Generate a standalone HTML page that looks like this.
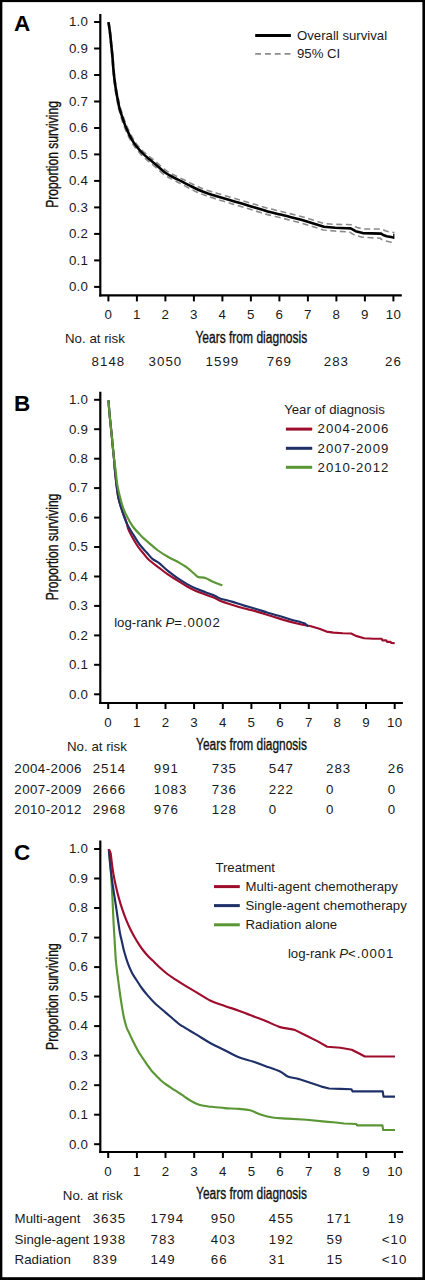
<!DOCTYPE html>
<html><head><meta charset="utf-8">
<style>
html,body{margin:0;padding:0;background:#fff;}
body{width:425px;height:1280px;overflow:hidden;}
svg{display:block;}
.t{font-family:"Liberation Sans", sans-serif;font-size:13.3px;fill:#1a1a1a;letter-spacing:0.3px;}
.r{font-family:"Liberation Sans", sans-serif;font-size:13.3px;fill:#1a1a1a;}
.n{font-family:"Liberation Sans", sans-serif;font-size:13.3px;fill:#1a1a1a;letter-spacing:1px;}
.d{letter-spacing:0.95px;}
.lg{font-family:"Liberation Sans", sans-serif;font-size:13.2px;fill:#1a1a1a;}
.pl{font-family:"Liberation Sans", sans-serif;font-size:22.5px;font-weight:bold;fill:#000;}
.yl{font-family:"Liberation Sans", sans-serif;font-size:16px;fill:#111;stroke:#111;stroke-width:0.35px;}
.xl{font-family:"Liberation Sans", sans-serif;font-size:15.6px;fill:#111;stroke:#111;stroke-width:0.35px;}
</style></head>
<body>
<svg width="425" height="1280" viewBox="0 0 425 1280">
<rect x="0" y="0" width="425" height="1280" fill="#fff"/>
<line x1="100.3" y1="14.0" x2="100.3" y2="296.5" stroke="#000" stroke-width="2.2"/>
<line x1="99.2" y1="295.4" x2="401.8" y2="295.4" stroke="#000" stroke-width="2.2"/>
<line x1="94.1" y1="286.9" x2="100.3" y2="286.9" stroke="#000" stroke-width="2"/>
<text x="88.3" y="291.2" text-anchor="end" class="t">0.0</text>
<line x1="94.1" y1="260.4" x2="100.3" y2="260.4" stroke="#000" stroke-width="2"/>
<text x="88.3" y="264.7" text-anchor="end" class="t">0.1</text>
<line x1="94.1" y1="233.9" x2="100.3" y2="233.9" stroke="#000" stroke-width="2"/>
<text x="88.3" y="238.2" text-anchor="end" class="t">0.2</text>
<line x1="94.1" y1="207.4" x2="100.3" y2="207.4" stroke="#000" stroke-width="2"/>
<text x="88.3" y="211.7" text-anchor="end" class="t">0.3</text>
<line x1="94.1" y1="180.9" x2="100.3" y2="180.9" stroke="#000" stroke-width="2"/>
<text x="88.3" y="185.2" text-anchor="end" class="t">0.4</text>
<line x1="94.1" y1="154.4" x2="100.3" y2="154.4" stroke="#000" stroke-width="2"/>
<text x="88.3" y="158.8" text-anchor="end" class="t">0.5</text>
<line x1="94.1" y1="128.0" x2="100.3" y2="128.0" stroke="#000" stroke-width="2"/>
<text x="88.3" y="132.3" text-anchor="end" class="t">0.6</text>
<line x1="94.1" y1="101.5" x2="100.3" y2="101.5" stroke="#000" stroke-width="2"/>
<text x="88.3" y="105.8" text-anchor="end" class="t">0.7</text>
<line x1="94.1" y1="75.0" x2="100.3" y2="75.0" stroke="#000" stroke-width="2"/>
<text x="88.3" y="79.3" text-anchor="end" class="t">0.8</text>
<line x1="94.1" y1="48.5" x2="100.3" y2="48.5" stroke="#000" stroke-width="2"/>
<text x="88.3" y="52.8" text-anchor="end" class="t">0.9</text>
<line x1="94.1" y1="22.0" x2="100.3" y2="22.0" stroke="#000" stroke-width="2"/>
<text x="88.3" y="26.3" text-anchor="end" class="t">1.0</text>
<line x1="108.4" y1="295.4" x2="108.4" y2="301.4" stroke="#000" stroke-width="2"/>
<text x="108.4" y="319.4" text-anchor="middle" class="t">0</text>
<line x1="136.9" y1="295.4" x2="136.9" y2="301.4" stroke="#000" stroke-width="2"/>
<text x="136.9" y="319.4" text-anchor="middle" class="t">1</text>
<line x1="165.4" y1="295.4" x2="165.4" y2="301.4" stroke="#000" stroke-width="2"/>
<text x="165.4" y="319.4" text-anchor="middle" class="t">2</text>
<line x1="193.9" y1="295.4" x2="193.9" y2="301.4" stroke="#000" stroke-width="2"/>
<text x="193.9" y="319.4" text-anchor="middle" class="t">3</text>
<line x1="222.4" y1="295.4" x2="222.4" y2="301.4" stroke="#000" stroke-width="2"/>
<text x="222.4" y="319.4" text-anchor="middle" class="t">4</text>
<line x1="250.9" y1="295.4" x2="250.9" y2="301.4" stroke="#000" stroke-width="2"/>
<text x="250.9" y="319.4" text-anchor="middle" class="t">5</text>
<line x1="279.4" y1="295.4" x2="279.4" y2="301.4" stroke="#000" stroke-width="2"/>
<text x="279.4" y="319.4" text-anchor="middle" class="t">6</text>
<line x1="307.9" y1="295.4" x2="307.9" y2="301.4" stroke="#000" stroke-width="2"/>
<text x="307.9" y="319.4" text-anchor="middle" class="t">7</text>
<line x1="336.4" y1="295.4" x2="336.4" y2="301.4" stroke="#000" stroke-width="2"/>
<text x="336.4" y="319.4" text-anchor="middle" class="t">8</text>
<line x1="364.9" y1="295.4" x2="364.9" y2="301.4" stroke="#000" stroke-width="2"/>
<text x="364.9" y="319.4" text-anchor="middle" class="t">9</text>
<line x1="393.4" y1="295.4" x2="393.4" y2="301.4" stroke="#000" stroke-width="2"/>
<text x="393.4" y="319.4" text-anchor="middle" class="t">10</text>
<text x="14.0" y="30.8" class="pl">A</text>
<text transform="translate(58.2 154.4) rotate(-90)" text-anchor="middle" class="yl" textLength="106.6" lengthAdjust="spacingAndGlyphs">Proportion surviving</text>
<path d="M108.99,22.03 C109.25,23.78 110.05,28.82 110.50,32.54 C110.95,36.26 111.30,40.41 111.70,44.35 C112.10,48.29 112.54,52.24 112.90,56.16 C113.25,60.07 113.45,63.94 113.82,67.85 C114.18,71.77 114.58,75.70 115.10,79.63 C115.61,83.55 116.32,88.02 116.90,91.39 C117.49,94.76 118.07,97.26 118.61,99.85 C119.14,102.43 119.47,104.56 120.09,106.88 C120.70,109.20 121.44,111.23 122.30,113.78 C123.17,116.33 124.17,119.38 125.26,122.17 C126.36,124.96 127.58,127.81 128.86,130.53 C130.14,133.25 131.61,136.20 132.92,138.46 C134.23,140.73 135.30,142.29 136.71,144.13 C138.13,145.97 139.85,147.86 141.42,149.50 C142.98,151.14 144.38,152.47 146.10,153.97 C147.82,155.47 149.85,156.95 151.75,158.48 C153.65,160.01 155.12,161.16 157.50,163.14 C159.88,165.13 163.28,168.39 166.04,170.37 C168.79,172.35 171.32,173.59 174.03,175.03 C176.74,176.47 179.55,177.66 182.30,179.01 C185.05,180.36 187.80,181.78 190.54,183.13 C193.29,184.48 196.07,185.91 198.78,187.09 C201.49,188.28 203.81,189.21 206.81,190.23 C209.80,191.24 212.92,192.06 216.73,193.18 C220.54,194.30 225.33,195.68 229.65,196.94 C233.97,198.19 238.34,199.43 242.66,200.70 C246.98,201.98 251.29,203.29 255.58,204.58 C259.87,205.87 264.11,207.28 268.40,208.43 C272.70,209.58 277.61,210.58 281.34,211.49 C285.07,212.40 287.31,213.00 290.77,213.88 L302.14,216.77 L313.54,220.18 L324.52,223.67 L335.41,224.36 L346.67,224.54 L351.88,224.81 L357.03,227.55 L363.28,229.02 L371.32,229.04 L381.71,229.00 L385.18,230.74 L387.86,231.55 L393.29,232.43 L394.51,232.56" fill="none" stroke="#8a8a8a" stroke-width="1.6" stroke-dasharray="6 3.6"/>
<path d="M108.01,22.17 C108.25,23.92 109.05,28.95 109.50,32.66 C109.95,36.37 110.30,40.52 110.70,44.45 C111.10,48.38 111.56,52.33 111.90,56.24 C112.25,60.16 112.45,64.02 112.78,67.95 C113.12,71.87 113.45,75.83 113.90,79.77 C114.36,83.72 114.98,88.22 115.50,91.61 C116.01,95.01 116.53,97.54 116.99,100.15 C117.46,102.77 117.76,104.94 118.31,107.32 C118.86,109.70 119.53,111.80 120.30,114.42 C121.07,117.04 121.93,120.16 122.94,123.03 C123.94,125.91 125.12,128.85 126.34,131.67 C127.56,134.49 128.99,137.54 130.28,139.94 C131.57,142.34 132.67,144.08 134.09,146.07 C135.50,148.06 137.21,150.11 138.78,151.90 C140.35,153.70 141.78,155.19 143.50,156.83 C145.21,158.46 147.19,160.11 149.05,161.72 C150.92,163.32 152.31,164.40 154.70,166.46 C157.08,168.51 160.52,171.91 163.36,174.03 C166.21,176.15 168.98,177.61 171.77,179.17 C174.56,180.73 177.35,181.97 180.10,183.39 C182.85,184.81 185.50,186.25 188.26,187.67 C191.01,189.09 193.83,190.62 196.62,191.91 C199.41,193.19 201.92,194.26 204.99,195.37 C208.07,196.49 211.24,197.40 215.07,198.62 C218.90,199.83 223.64,201.35 227.95,202.66 C232.26,203.98 236.63,205.21 240.94,206.50 C245.25,207.79 249.51,209.11 253.82,210.42 C258.13,211.73 262.46,213.19 266.80,214.37 C271.14,215.55 276.12,216.59 279.86,217.51 C283.60,218.44 285.79,219.04 289.23,219.92 L300.46,222.83 L311.66,226.22 L323.28,229.93 L334.99,231.04 L346.33,231.86 L349.52,231.99 L354.17,234.85 L362.12,237.18 L371.08,237.76 L380.49,238.20 L381.22,239.26 L385.54,240.85 L391.51,242.17 L393.09,242.44" fill="none" stroke="#8a8a8a" stroke-width="1.6" stroke-dasharray="6 3.6"/>
<path d="M108.50,22.10 C108.75,23.85 109.55,28.88 110.00,32.60 C110.45,36.32 110.80,40.47 111.20,44.40 C111.60,48.33 112.05,52.28 112.40,56.20 C112.75,60.12 112.95,63.98 113.30,67.90 C113.65,71.82 114.02,75.77 114.50,79.70 C114.98,83.63 115.65,88.12 116.20,91.50 C116.75,94.88 117.30,97.40 117.80,100.00 C118.30,102.60 118.62,104.75 119.20,107.10 C119.78,109.45 120.48,111.52 121.30,114.10 C122.12,116.68 123.05,119.77 124.10,122.60 C125.15,125.43 126.35,128.33 127.60,131.10 C128.85,133.87 130.30,136.87 131.60,139.20 C132.90,141.53 133.98,143.18 135.40,145.10 C136.82,147.02 138.53,148.98 140.10,150.70 C141.67,152.42 143.08,153.83 144.80,155.40 C146.52,156.97 148.52,158.53 150.40,160.10 C152.28,161.67 153.72,162.78 156.10,164.80 C158.48,166.82 161.90,170.15 164.70,172.20 C167.50,174.25 170.15,175.60 172.90,177.10 C175.65,178.60 178.45,179.82 181.20,181.20 C183.95,182.58 186.65,184.02 189.40,185.40 C192.15,186.78 194.95,188.27 197.70,189.50 C200.45,190.73 202.87,191.73 205.90,192.80 C208.93,193.87 212.08,194.73 215.90,195.90 C219.72,197.07 224.48,198.52 228.80,199.80 C233.12,201.08 237.48,202.32 241.80,203.60 C246.12,204.88 250.40,206.20 254.70,207.50 C259.00,208.80 263.28,210.23 267.60,211.40 C271.92,212.57 276.87,213.58 280.60,214.50 C284.33,215.42 286.55,216.02 290.00,216.90 L301.30,219.80 L312.60,223.20 L323.90,226.80 L335.20,227.70 L346.50,228.20 L350.70,228.40 L355.60,231.20 L362.70,233.10 L371.20,233.40 L381.10,233.60 L383.20,235.00 L386.70,236.20 L392.40,237.30 L393.80,237.50" fill="none" stroke="#000" stroke-width="2.6" stroke-linejoin="round"/>
<line x1="393.8" y1="233.8" x2="393.8" y2="239" stroke="#000" stroke-width="1.2"/>
<line x1="255.2" y1="35.4" x2="290.9" y2="35.4" stroke="#000" stroke-width="3"/>
<line x1="255.2" y1="53.9" x2="291" y2="53.9" stroke="#8a8a8a" stroke-width="1.7" stroke-dasharray="5.8 4"/>
<text x="297" y="39.5" class="lg">Overall survival</text>
<text x="297" y="58.2" class="lg">95% CI</text>
<text x="65.0" y="342.6" class="r">No. at risk</text>
<text x="195.4" y="343.2" class="xl" textLength="111.8" lengthAdjust="spacingAndGlyphs">Years from diagnosis</text>
<text x="108.4" y="365.9" text-anchor="middle" class="n">8148</text>
<text x="165.4" y="365.9" text-anchor="middle" class="n">3050</text>
<text x="222.4" y="365.9" text-anchor="middle" class="n">1599</text>
<text x="279.4" y="365.9" text-anchor="middle" class="n">769</text>
<text x="336.4" y="365.9" text-anchor="middle" class="n">283</text>
<text x="393.4" y="365.9" text-anchor="middle" class="n">26</text>
<line x1="100.3" y1="391.7" x2="100.3" y2="704.1" stroke="#000" stroke-width="2.2"/>
<line x1="99.2" y1="703.0" x2="402.9" y2="703.0" stroke="#000" stroke-width="2.2"/>
<line x1="94.1" y1="694.3" x2="100.3" y2="694.3" stroke="#000" stroke-width="2"/>
<text x="88.3" y="698.6" text-anchor="end" class="t">0.0</text>
<line x1="94.1" y1="664.8" x2="100.3" y2="664.8" stroke="#000" stroke-width="2"/>
<text x="88.3" y="669.1" text-anchor="end" class="t">0.1</text>
<line x1="94.1" y1="635.4" x2="100.3" y2="635.4" stroke="#000" stroke-width="2"/>
<text x="88.3" y="639.7" text-anchor="end" class="t">0.2</text>
<line x1="94.1" y1="605.9" x2="100.3" y2="605.9" stroke="#000" stroke-width="2"/>
<text x="88.3" y="610.2" text-anchor="end" class="t">0.3</text>
<line x1="94.1" y1="576.5" x2="100.3" y2="576.5" stroke="#000" stroke-width="2"/>
<text x="88.3" y="580.8" text-anchor="end" class="t">0.4</text>
<line x1="94.1" y1="547.0" x2="100.3" y2="547.0" stroke="#000" stroke-width="2"/>
<text x="88.3" y="551.3" text-anchor="end" class="t">0.5</text>
<line x1="94.1" y1="517.6" x2="100.3" y2="517.6" stroke="#000" stroke-width="2"/>
<text x="88.3" y="521.9" text-anchor="end" class="t">0.6</text>
<line x1="94.1" y1="488.1" x2="100.3" y2="488.1" stroke="#000" stroke-width="2"/>
<text x="88.3" y="492.4" text-anchor="end" class="t">0.7</text>
<line x1="94.1" y1="458.7" x2="100.3" y2="458.7" stroke="#000" stroke-width="2"/>
<text x="88.3" y="463.0" text-anchor="end" class="t">0.8</text>
<line x1="94.1" y1="429.2" x2="100.3" y2="429.2" stroke="#000" stroke-width="2"/>
<text x="88.3" y="433.6" text-anchor="end" class="t">0.9</text>
<line x1="94.1" y1="399.8" x2="100.3" y2="399.8" stroke="#000" stroke-width="2"/>
<text x="88.3" y="404.1" text-anchor="end" class="t">1.0</text>
<line x1="108.2" y1="703.0" x2="108.2" y2="709.0" stroke="#000" stroke-width="2"/>
<text x="108.2" y="726.9" text-anchor="middle" class="t">0</text>
<line x1="136.8" y1="703.0" x2="136.8" y2="709.0" stroke="#000" stroke-width="2"/>
<text x="136.8" y="726.9" text-anchor="middle" class="t">1</text>
<line x1="165.5" y1="703.0" x2="165.5" y2="709.0" stroke="#000" stroke-width="2"/>
<text x="165.5" y="726.9" text-anchor="middle" class="t">2</text>
<line x1="194.1" y1="703.0" x2="194.1" y2="709.0" stroke="#000" stroke-width="2"/>
<text x="194.1" y="726.9" text-anchor="middle" class="t">3</text>
<line x1="222.8" y1="703.0" x2="222.8" y2="709.0" stroke="#000" stroke-width="2"/>
<text x="222.8" y="726.9" text-anchor="middle" class="t">4</text>
<line x1="251.4" y1="703.0" x2="251.4" y2="709.0" stroke="#000" stroke-width="2"/>
<text x="251.4" y="726.9" text-anchor="middle" class="t">5</text>
<line x1="280.1" y1="703.0" x2="280.1" y2="709.0" stroke="#000" stroke-width="2"/>
<text x="280.1" y="726.9" text-anchor="middle" class="t">6</text>
<line x1="308.8" y1="703.0" x2="308.8" y2="709.0" stroke="#000" stroke-width="2"/>
<text x="308.8" y="726.9" text-anchor="middle" class="t">7</text>
<line x1="337.4" y1="703.0" x2="337.4" y2="709.0" stroke="#000" stroke-width="2"/>
<text x="337.4" y="726.9" text-anchor="middle" class="t">8</text>
<line x1="366.0" y1="703.0" x2="366.0" y2="709.0" stroke="#000" stroke-width="2"/>
<text x="366.0" y="726.9" text-anchor="middle" class="t">9</text>
<line x1="394.7" y1="703.0" x2="394.7" y2="709.0" stroke="#000" stroke-width="2"/>
<text x="394.7" y="726.9" text-anchor="middle" class="t">10</text>
<text x="14.0" y="410.6" class="pl">B</text>
<text transform="translate(58.2 547.0) rotate(-90)" text-anchor="middle" class="yl" textLength="106.6" lengthAdjust="spacingAndGlyphs">Proportion surviving</text>
<path d="M108.50,400.30 C108.65,402.35 109.05,408.58 109.40,412.60 C109.75,416.62 110.20,420.47 110.60,424.40 C111.00,428.33 111.42,432.28 111.80,436.20 C112.18,440.12 112.52,443.98 112.90,447.90 C113.28,451.82 113.77,456.02 114.10,459.70 C114.43,463.38 114.52,465.93 114.90,470.00 C115.28,474.07 115.80,479.40 116.40,484.10 C117.00,488.80 117.45,493.48 118.50,498.20 C119.55,502.92 121.42,508.52 122.70,512.40 C123.98,516.28 125.25,518.68 126.20,521.50 C127.15,524.32 127.33,526.58 128.40,529.30 C129.47,532.02 130.97,534.85 132.60,537.80 C134.23,540.75 136.32,544.30 138.20,547.00 C140.08,549.70 142.13,551.88 143.90,554.00 C145.67,556.12 146.32,557.43 148.80,559.70 C151.28,561.97 155.57,565.10 158.80,567.60 C162.03,570.10 165.07,572.53 168.20,574.70 C171.33,576.87 174.45,578.63 177.60,580.60 C180.75,582.57 183.95,584.73 187.10,586.50 C190.25,588.27 193.37,589.83 196.50,591.20 C199.63,592.57 202.77,593.53 205.90,594.70 C209.03,595.87 212.95,597.20 215.30,598.20 C217.65,599.20 217.25,599.62 220.00,600.70 C222.75,601.78 227.88,603.45 231.80,604.70 C235.72,605.95 239.58,607.13 243.50,608.20 C247.42,609.27 251.37,610.00 255.30,611.10 C259.23,612.20 263.18,613.58 267.10,614.80 C271.02,616.02 274.88,617.22 278.80,618.40 C282.72,619.58 286.67,620.85 290.60,621.90 L302.40,624.70 L310.00,626.00 L319.40,628.80 L326.50,631.60 L333.50,632.60 L342.90,633.30 L351.20,633.50 L355.90,635.90 L364.10,638.20 L373.50,638.70 L381.60,638.70 L382.40,640.30 L386.20,640.30 L387.00,641.80 L390.50,641.80 L391.20,642.90 L394.70,643.20" fill="none" stroke="#9e0d2c" stroke-width="2.15" stroke-linejoin="round"/>
<path d="M108.50,400.30 C108.65,402.35 109.05,408.58 109.40,412.60 C109.75,416.62 110.20,420.47 110.60,424.40 C111.00,428.33 111.42,432.28 111.80,436.20 C112.18,440.12 112.52,443.98 112.90,447.90 C113.28,451.82 113.77,456.02 114.10,459.70 C114.43,463.38 114.52,465.93 114.90,470.00 C115.28,474.07 115.80,479.40 116.40,484.10 C117.00,488.80 117.45,493.48 118.50,498.20 C119.55,502.92 121.30,508.17 122.70,512.40 C124.10,516.63 125.25,520.08 126.90,523.60 C128.55,527.12 130.48,530.02 132.60,533.50 C134.72,536.98 137.25,541.33 139.60,544.50 C141.95,547.67 144.57,550.10 146.70,552.50 C148.83,554.90 150.38,557.17 152.40,558.90 C154.42,560.63 156.17,560.85 158.80,562.90 C161.43,564.95 165.07,568.65 168.20,571.20 C171.33,573.75 174.45,576.05 177.60,578.20 C180.75,580.35 183.95,582.33 187.10,584.10 C190.25,585.87 193.37,587.42 196.50,588.80 C199.63,590.18 202.77,591.22 205.90,592.40 C209.03,593.58 212.95,594.90 215.30,595.90 C217.65,596.90 217.25,597.45 220.00,598.40 C222.75,599.35 227.88,600.43 231.80,601.60 C235.72,602.77 239.58,604.22 243.50,605.40 C247.42,606.58 251.37,607.52 255.30,608.70 C259.23,609.88 263.18,611.32 267.10,612.50 C271.02,613.68 274.88,614.63 278.80,615.80 C282.72,616.97 287.07,618.48 290.60,619.50 C294.13,620.52 297.60,621.23 300.00,621.90 L305.00,623.50 L308.20,626.60" fill="none" stroke="#1f3068" stroke-width="2.15" stroke-linejoin="round"/>
<path d="M108.50,400.30 C108.65,402.35 109.05,408.58 109.40,412.60 C109.75,416.62 110.20,420.47 110.60,424.40 C111.00,428.33 111.42,432.28 111.80,436.20 C112.18,440.12 112.52,443.98 112.90,447.90 C113.28,451.82 113.65,456.02 114.10,459.70 C114.55,463.38 115.08,465.93 115.60,470.00 C116.12,474.07 116.53,479.87 117.20,484.10 C117.87,488.33 118.68,491.63 119.60,495.40 C120.52,499.17 121.47,503.17 122.70,506.70 C123.93,510.23 125.32,513.30 127.00,516.60 C128.68,519.90 130.58,523.45 132.80,526.50 C135.02,529.55 137.52,532.08 140.30,534.90 C143.08,537.72 146.55,540.80 149.50,543.40 C152.45,546.00 154.93,548.27 158.00,550.50 C161.07,552.73 164.63,554.92 167.90,556.80 C171.17,558.68 174.40,560.00 177.60,561.80 C180.80,563.60 183.95,565.25 187.10,567.60 C190.25,569.95 194.55,574.32 196.50,575.90 C198.45,577.48 197.23,576.72 198.80,577.10 C200.37,577.48 203.55,577.42 205.90,578.20 C208.25,578.98 210.15,580.62 212.90,581.80 C215.65,582.98 220.82,584.72 222.40,585.30" fill="none" stroke="#5a9634" stroke-width="2.15" stroke-linejoin="round"/>
<text x="284.2" y="413.5" class="lg">Year of diagnosis</text>
<line x1="285.9" y1="429.1" x2="312.2" y2="429.1" stroke="#9e0d2c" stroke-width="3"/>
<text x="317.6" y="433.4" class="lg d">2004-2006</text>
<line x1="285.9" y1="448.3" x2="312.2" y2="448.3" stroke="#1f3068" stroke-width="3"/>
<text x="317.6" y="452.6" class="lg d">2007-2009</text>
<line x1="285.9" y1="467.3" x2="312.2" y2="467.3" stroke="#5a9634" stroke-width="3"/>
<text x="317.6" y="471.6" class="lg d">2010-2012</text>
<text x="114.2" y="627" class="lg">log-rank <tspan font-style="italic">P</tspan><tspan class="d">=.0002</tspan></text>
<text x="67.0" y="750.5" class="r">No. at risk</text>
<text x="196.1" y="750.3" class="xl" textLength="110.8" lengthAdjust="spacingAndGlyphs">Years from diagnosis</text>
<text x="14.3" y="773.4" class="r" style="letter-spacing:0.45px">2004-2006</text>
<text x="92.7" y="773.4" class="n">2514</text>
<text x="153.8" y="773.4" class="n">991</text>
<text x="211.8" y="773.4" class="n">735</text>
<text x="268.8" y="773.4" class="n">547</text>
<text x="326.0" y="773.4" class="n">283</text>
<text x="387.8" y="773.4" class="n">26</text>
<text x="14.3" y="793.9" class="r" style="letter-spacing:0.45px">2007-2009</text>
<text x="92.7" y="793.9" class="n">2666</text>
<text x="153.8" y="793.9" class="n">1083</text>
<text x="211.8" y="793.9" class="n">736</text>
<text x="268.8" y="793.9" class="n">222</text>
<text x="326.0" y="793.9" class="n">0</text>
<text x="387.8" y="793.9" class="n">0</text>
<text x="14.3" y="814.4" class="r" style="letter-spacing:0.45px">2010-2012</text>
<text x="92.7" y="814.4" class="n">2968</text>
<text x="153.8" y="814.4" class="n">976</text>
<text x="211.8" y="814.4" class="n">128</text>
<text x="268.8" y="814.4" class="n">0</text>
<text x="326.0" y="814.4" class="n">0</text>
<text x="387.8" y="814.4" class="n">0</text>
<line x1="100.3" y1="840.5" x2="100.3" y2="1153.1" stroke="#000" stroke-width="2.2"/>
<line x1="99.2" y1="1152.0" x2="403.1" y2="1152.0" stroke="#000" stroke-width="2.2"/>
<line x1="94.1" y1="1144.2" x2="100.3" y2="1144.2" stroke="#000" stroke-width="2"/>
<text x="88.3" y="1148.5" text-anchor="end" class="t">0.0</text>
<line x1="94.1" y1="1114.7" x2="100.3" y2="1114.7" stroke="#000" stroke-width="2"/>
<text x="88.3" y="1119.0" text-anchor="end" class="t">0.1</text>
<line x1="94.1" y1="1085.2" x2="100.3" y2="1085.2" stroke="#000" stroke-width="2"/>
<text x="88.3" y="1089.5" text-anchor="end" class="t">0.2</text>
<line x1="94.1" y1="1055.6" x2="100.3" y2="1055.6" stroke="#000" stroke-width="2"/>
<text x="88.3" y="1059.9" text-anchor="end" class="t">0.3</text>
<line x1="94.1" y1="1026.1" x2="100.3" y2="1026.1" stroke="#000" stroke-width="2"/>
<text x="88.3" y="1030.4" text-anchor="end" class="t">0.4</text>
<line x1="94.1" y1="996.6" x2="100.3" y2="996.6" stroke="#000" stroke-width="2"/>
<text x="88.3" y="1000.9" text-anchor="end" class="t">0.5</text>
<line x1="94.1" y1="967.1" x2="100.3" y2="967.1" stroke="#000" stroke-width="2"/>
<text x="88.3" y="971.4" text-anchor="end" class="t">0.6</text>
<line x1="94.1" y1="937.6" x2="100.3" y2="937.6" stroke="#000" stroke-width="2"/>
<text x="88.3" y="941.9" text-anchor="end" class="t">0.7</text>
<line x1="94.1" y1="908.0" x2="100.3" y2="908.0" stroke="#000" stroke-width="2"/>
<text x="88.3" y="912.3" text-anchor="end" class="t">0.8</text>
<line x1="94.1" y1="878.5" x2="100.3" y2="878.5" stroke="#000" stroke-width="2"/>
<text x="88.3" y="882.8" text-anchor="end" class="t">0.9</text>
<line x1="94.1" y1="849.0" x2="100.3" y2="849.0" stroke="#000" stroke-width="2"/>
<text x="88.3" y="853.3" text-anchor="end" class="t">1.0</text>
<line x1="108.2" y1="1152.0" x2="108.2" y2="1158.0" stroke="#000" stroke-width="2"/>
<text x="108.2" y="1176.0" text-anchor="middle" class="t">0</text>
<line x1="136.9" y1="1152.0" x2="136.9" y2="1158.0" stroke="#000" stroke-width="2"/>
<text x="136.9" y="1176.0" text-anchor="middle" class="t">1</text>
<line x1="165.5" y1="1152.0" x2="165.5" y2="1158.0" stroke="#000" stroke-width="2"/>
<text x="165.5" y="1176.0" text-anchor="middle" class="t">2</text>
<line x1="194.2" y1="1152.0" x2="194.2" y2="1158.0" stroke="#000" stroke-width="2"/>
<text x="194.2" y="1176.0" text-anchor="middle" class="t">3</text>
<line x1="222.9" y1="1152.0" x2="222.9" y2="1158.0" stroke="#000" stroke-width="2"/>
<text x="222.9" y="1176.0" text-anchor="middle" class="t">4</text>
<line x1="251.6" y1="1152.0" x2="251.6" y2="1158.0" stroke="#000" stroke-width="2"/>
<text x="251.6" y="1176.0" text-anchor="middle" class="t">5</text>
<line x1="280.2" y1="1152.0" x2="280.2" y2="1158.0" stroke="#000" stroke-width="2"/>
<text x="280.2" y="1176.0" text-anchor="middle" class="t">6</text>
<line x1="308.9" y1="1152.0" x2="308.9" y2="1158.0" stroke="#000" stroke-width="2"/>
<text x="308.9" y="1176.0" text-anchor="middle" class="t">7</text>
<line x1="337.6" y1="1152.0" x2="337.6" y2="1158.0" stroke="#000" stroke-width="2"/>
<text x="337.6" y="1176.0" text-anchor="middle" class="t">8</text>
<line x1="366.2" y1="1152.0" x2="366.2" y2="1158.0" stroke="#000" stroke-width="2"/>
<text x="366.2" y="1176.0" text-anchor="middle" class="t">9</text>
<line x1="394.9" y1="1152.0" x2="394.9" y2="1158.0" stroke="#000" stroke-width="2"/>
<text x="394.9" y="1176.0" text-anchor="middle" class="t">10</text>
<text x="14.0" y="859.9" class="pl">C</text>
<text transform="translate(58.2 996.6) rotate(-90)" text-anchor="middle" class="yl" textLength="106.6" lengthAdjust="spacingAndGlyphs">Proportion surviving</text>
<path d="M108.80,849.10 C109.10,852.33 110.10,862.32 110.60,868.50 C111.10,874.68 111.45,880.32 111.80,886.20 C112.15,892.08 112.42,897.92 112.70,903.80 C112.98,909.68 113.22,916.00 113.50,921.50 C113.78,927.00 114.17,932.88 114.40,936.80 C114.63,940.72 114.65,940.97 114.90,945.00 C115.15,949.03 115.47,956.00 115.90,961.00 C116.33,966.00 116.88,970.00 117.50,975.00 C118.12,980.00 119.03,986.83 119.60,991.00 C120.17,995.17 120.43,996.93 120.90,1000.00 C121.37,1003.07 121.85,1006.27 122.40,1009.40 C122.95,1012.53 123.50,1015.78 124.20,1018.80 C124.90,1021.82 125.73,1025.05 126.60,1027.50 C127.47,1029.95 128.47,1031.50 129.40,1033.50 C130.33,1035.50 131.25,1037.55 132.20,1039.50 C133.15,1041.45 134.07,1043.20 135.10,1045.20 C136.13,1047.20 137.32,1049.62 138.40,1051.50 C139.48,1053.38 140.43,1054.73 141.60,1056.50 C142.77,1058.27 144.13,1060.27 145.40,1062.10 C146.67,1063.93 147.95,1065.80 149.20,1067.50 C150.45,1069.20 151.33,1070.53 152.90,1072.30 C154.47,1074.07 157.07,1076.57 158.60,1078.10 C160.13,1079.63 160.73,1080.35 162.10,1081.50 C163.47,1082.65 165.05,1083.78 166.80,1085.00 C168.55,1086.22 170.65,1087.53 172.60,1088.80 C174.55,1090.07 176.53,1091.30 178.50,1092.60 C180.47,1093.90 182.40,1095.27 184.40,1096.60 C186.40,1097.93 188.48,1099.42 190.50,1100.60 C192.52,1101.78 194.32,1102.83 196.50,1103.70 C198.68,1104.57 201.25,1105.30 203.60,1105.80 C205.95,1106.30 207.08,1106.32 210.60,1106.70 C214.12,1107.08 220.00,1107.73 224.70,1108.10 C229.40,1108.47 234.58,1108.53 238.80,1108.90 C243.02,1109.27 246.25,1109.32 250.00,1110.30 C253.75,1111.28 257.53,1113.60 261.30,1114.80 C265.07,1116.00 268.20,1116.87 272.60,1117.50 C277.00,1118.13 282.05,1118.23 287.70,1118.60 L306.50,1119.70 L325.30,1121.60 L335.80,1122.50 L344.10,1123.50 L356.40,1124.00 L357.00,1125.30 L382.40,1125.30 L383.20,1130.00 L395.00,1130.00" fill="none" stroke="#5a9634" stroke-width="2.15" stroke-linejoin="round"/>
<path d="M108.80,849.10 C109.10,852.33 109.92,862.32 110.60,868.50 C111.28,874.68 112.22,881.30 112.90,886.20 C113.58,891.10 114.10,893.98 114.70,897.90 C115.30,901.82 115.92,905.77 116.50,909.70 C117.08,913.63 117.62,917.58 118.20,921.50 C118.78,925.42 119.30,929.48 120.00,933.20 C120.70,936.92 121.72,940.78 122.40,943.80 C123.08,946.82 123.23,948.17 124.10,951.30 C124.97,954.43 126.32,959.07 127.60,962.60 C128.88,966.13 130.38,969.68 131.80,972.50 C133.22,975.32 134.45,976.92 136.10,979.50 C137.75,982.08 139.82,985.40 141.70,988.00 C143.58,990.60 145.28,992.63 147.40,995.10 C149.52,997.57 151.35,999.88 154.40,1002.80 C157.45,1005.72 161.90,1009.32 165.70,1012.60 C169.50,1015.88 174.43,1020.23 177.20,1022.50 C179.97,1024.77 179.08,1024.17 182.30,1026.20 C185.52,1028.23 191.78,1031.87 196.50,1034.70 C201.22,1037.53 205.90,1040.62 210.60,1043.20 C215.30,1045.78 220.00,1047.85 224.70,1050.20 C229.40,1052.55 234.10,1055.42 238.80,1057.30 C243.50,1059.18 248.52,1060.07 252.90,1061.50 C257.28,1062.93 260.57,1064.23 265.10,1065.90 C269.63,1067.57 276.33,1069.75 280.10,1071.50 C283.87,1073.25 284.57,1075.13 287.70,1076.40 C290.83,1077.67 295.15,1078.03 298.90,1079.10 L310.20,1082.80 L321.50,1086.60 L329.10,1088.50 L340.40,1088.90 L351.40,1089.30 L352.50,1091.30 L382.70,1091.30 L383.50,1096.60 L395.00,1096.60" fill="none" stroke="#1f3068" stroke-width="2.15" stroke-linejoin="round"/>
<path d="M108.80,849.10 C109.10,849.78 110.10,850.95 110.60,853.20 C111.10,855.45 111.32,859.07 111.80,862.60 C112.28,866.13 112.82,870.47 113.50,874.40 C114.18,878.33 115.02,882.28 115.90,886.20 C116.78,890.12 117.72,893.98 118.80,897.90 C119.88,901.82 121.22,906.17 122.40,909.70 C123.58,913.23 124.63,915.97 125.90,919.10 C127.17,922.23 128.62,925.60 130.00,928.50 C131.38,931.40 132.77,933.95 134.20,936.50 C135.63,939.05 137.08,941.47 138.60,943.80 C140.12,946.13 141.70,948.43 143.30,950.50 C144.90,952.57 146.43,954.32 148.20,956.20 C149.97,958.08 151.78,959.75 153.90,961.80 C156.02,963.85 158.55,966.38 160.90,968.50 C163.25,970.62 165.63,972.70 168.00,974.50 C170.37,976.30 172.72,977.73 175.10,979.30 C177.48,980.87 178.73,981.73 182.30,983.90 C185.87,986.07 191.78,989.48 196.50,992.30 C201.22,995.12 205.90,998.53 210.60,1000.80 C215.30,1003.07 220.00,1004.25 224.70,1005.90 C229.40,1007.55 234.58,1009.17 238.80,1010.70 C243.02,1012.23 245.62,1013.43 250.00,1015.10 C254.38,1016.77 260.08,1018.70 265.10,1020.70 C270.12,1022.70 275.08,1025.53 280.10,1027.10 C285.12,1028.67 290.80,1028.65 295.20,1030.10 L306.50,1035.80 L317.80,1041.40 L327.20,1046.70 L340.40,1047.80 L351.70,1049.70 L359.20,1053.50 L364.80,1056.50 L395.00,1056.50" fill="none" stroke="#9e0d2c" stroke-width="2.15" stroke-linejoin="round"/>
<text x="215.4" y="871.6" class="lg">Treatment</text>
<line x1="214" y1="886.6" x2="239.8" y2="886.6" stroke="#9e0d2c" stroke-width="3"/>
<text x="245.5" y="890.8" class="lg">Multi-agent chemotherapy</text>
<line x1="214" y1="905.6" x2="239.8" y2="905.6" stroke="#1f3068" stroke-width="3"/>
<text x="245.5" y="909.8" class="lg">Single-agent chemotherapy</text>
<line x1="214" y1="924.8" x2="239.8" y2="924.8" stroke="#5a9634" stroke-width="3"/>
<text x="245.5" y="929.0" class="lg">Radiation alone</text>
<text x="287.9" y="957.6" class="lg">log-rank <tspan font-style="italic">P</tspan><tspan class="d">&lt;.0001</tspan></text>
<text x="62.8" y="1199.9" class="r">No. at risk</text>
<text x="196.1" y="1198.8" class="xl" textLength="110.8" lengthAdjust="spacingAndGlyphs">Years from diagnosis</text>
<text x="14.6" y="1222.8" class="r">Multi-agent</text>
<text x="92.7" y="1222.8" class="n">3635</text>
<text x="150.5" y="1222.8" class="n">1794</text>
<text x="210.8" y="1222.8" class="n">950</text>
<text x="268.8" y="1222.8" class="n">455</text>
<text x="326.4" y="1222.8" class="n">171</text>
<text x="387.8" y="1222.8" class="n">19</text>
<text x="14.6" y="1243.5" class="r">Single-agent</text>
<text x="92.7" y="1243.5" class="n">1938</text>
<text x="150.5" y="1243.5" class="n">783</text>
<text x="210.8" y="1243.5" class="n">403</text>
<text x="268.8" y="1243.5" class="n">192</text>
<text x="326.4" y="1243.5" class="n">59</text>
<text x="381.8" y="1243.5" class="n">&lt;10</text>
<text x="14.6" y="1264.2" class="r">Radiation</text>
<text x="92.7" y="1264.2" class="n">839</text>
<text x="150.5" y="1264.2" class="n">149</text>
<text x="210.8" y="1264.2" class="n">66</text>
<text x="268.8" y="1264.2" class="n">31</text>
<text x="326.4" y="1264.2" class="n">15</text>
<text x="381.8" y="1264.2" class="n">&lt;10</text>
<rect x="0" y="0" width="425" height="2.1" fill="#000"/><rect x="0" y="0" width="2.35" height="1280" fill="#000"/><rect x="422.4" y="0" width="2.6" height="1280" fill="#000"/><rect x="0" y="1277.2" width="425" height="2.8" fill="#000"/>
</svg>
</body></html>
